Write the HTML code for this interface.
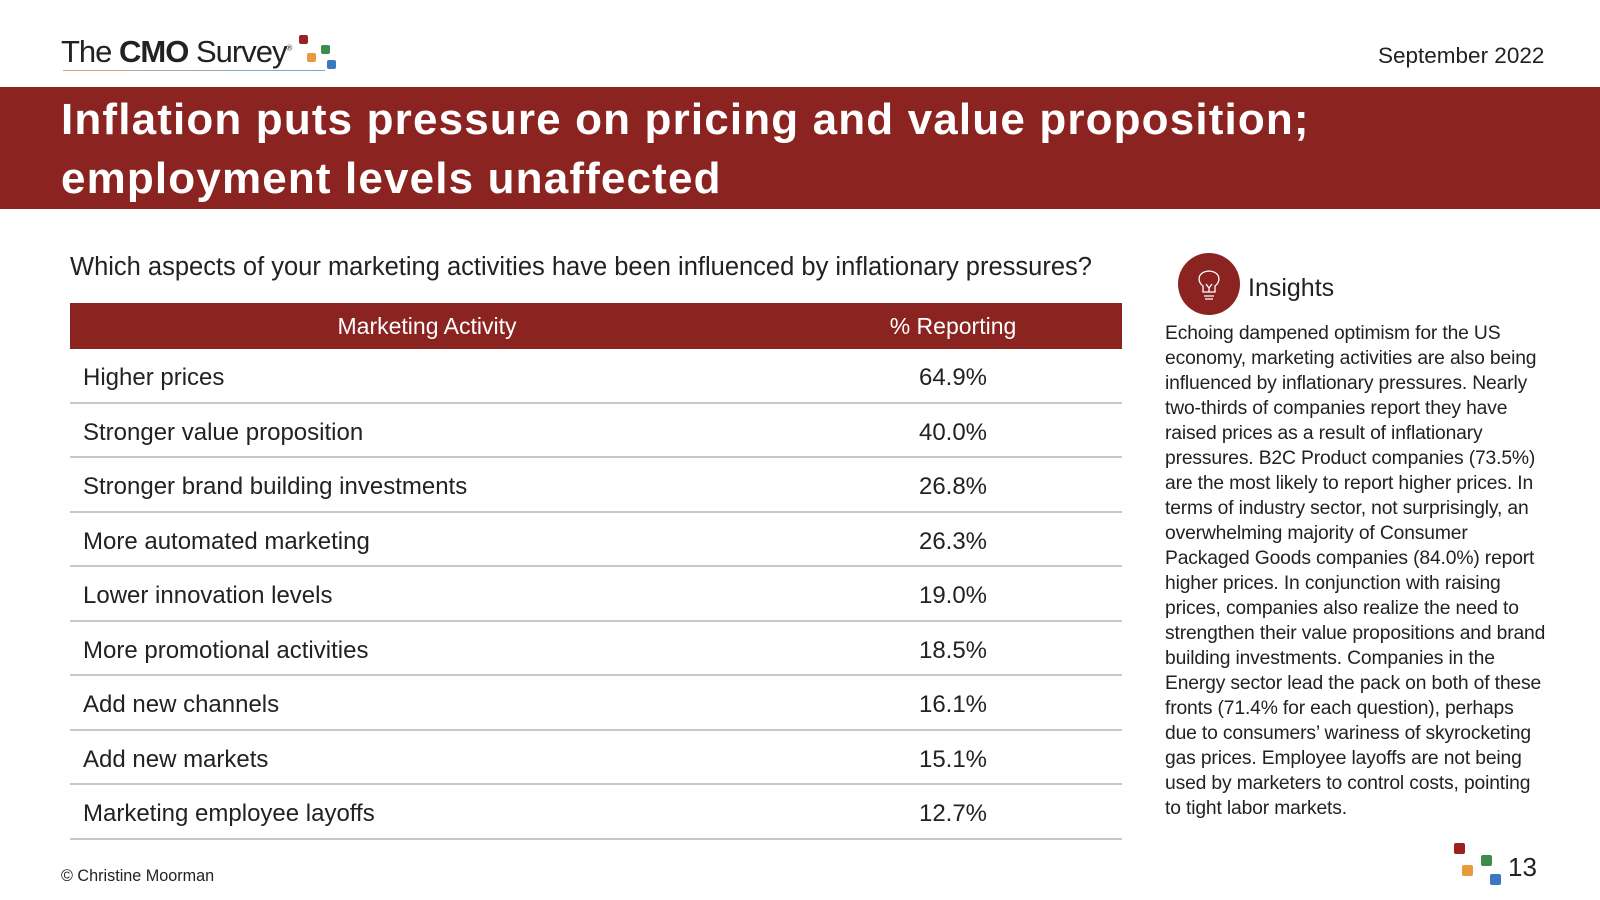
<!DOCTYPE html>
<html><head><meta charset="utf-8"><style>
body{margin:0;width:1600px;height:900px;background:#fff;font-family:"Liberation Sans",sans-serif;position:relative;overflow:hidden;color:#222}
.abs{position:absolute}
#band{left:0;top:87px;width:1600px;height:122px;background:#8b2320}
#band div{position:absolute;left:61px;color:#fff;font-weight:bold;font-size:44px;letter-spacing:1.15px;white-space:nowrap}
table{border-collapse:collapse;position:absolute;left:70px;top:303px;width:1052px}
th{background:#8b2320;color:#fff;font-weight:normal;font-size:23px;height:46px;padding:0}
td{font-size:24px;height:46.5px;padding:6px 0 0 0;border-bottom:2.5px solid #c8c8c8}
td.l{padding-left:13px}
td.v{text-align:center;width:338px}
.sq{position:absolute;width:11px;height:11px;border-radius:2px}
#ins div{white-space:nowrap}
</style></head><body>
<div class="abs" style="left:61px;top:34px;font-size:31px;letter-spacing:-1px;color:#222">The <b>CMO</b> Survey<sup style="font-size:8px">®</sup></div>
<div class="abs" style="left:63px;top:70px;width:262px;height:1px;background:linear-gradient(90deg,#e0a070,#9ab,#7ab)"></div>
<div class="sq" style="left:299px;top:35px;background:#9b2220;width:9px;height:9px"></div>
<div class="sq" style="left:321px;top:45px;background:#3c8c4c;width:9px;height:9px"></div>
<div class="sq" style="left:307px;top:53px;background:#e89a3c;width:9px;height:9px"></div>
<div class="sq" style="left:327px;top:60px;background:#3b78c0;width:9px;height:9px"></div>
<div class="abs" style="left:1378px;top:43px;font-size:22.5px">September 2022</div>
<div id="band" class="abs">
<div style="top:8px">Inflation puts pressure on pricing and value proposition;</div>
<div style="top:67px">employment levels unaffected</div></div>
<div class="abs" style="left:70px;top:253px;font-size:25.5px">Which aspects of your marketing activities have been influenced by inflationary pressures?</div>
<table>
<tr><th>Marketing Activity</th><th style="width:338px">% Reporting</th></tr>
<tr><td class="l">Higher prices</td><td class="v">64.9%</td></tr>
<tr><td class="l">Stronger value proposition</td><td class="v">40.0%</td></tr>
<tr><td class="l">Stronger brand building investments</td><td class="v">26.8%</td></tr>
<tr><td class="l">More automated marketing</td><td class="v">26.3%</td></tr>
<tr><td class="l">Lower innovation levels</td><td class="v">19.0%</td></tr>
<tr><td class="l">More promotional activities</td><td class="v">18.5%</td></tr>
<tr><td class="l">Add new channels</td><td class="v">16.1%</td></tr>
<tr><td class="l">Add new markets</td><td class="v">15.1%</td></tr>
<tr><td class="l">Marketing employee layoffs</td><td class="v">12.7%</td></tr>
</table>
<svg class="abs" style="left:1178px;top:253px" width="62" height="62"><circle cx="31" cy="31" r="31" fill="#8b2320"/><path d="M25 39 v-6 c-6-4-6-14 6-15 c12 1 12 11 6 15 v6 z M26 43h10 M27 46h8 M28 31l3 4 3-4 M31 35v4" stroke="#fff" stroke-width="1.3" fill="none"/></svg>
<div class="abs" style="left:1248px;top:274px;font-size:25px">Insights</div>
<div id="ins" class="abs" style="left:1165px;top:321px;width:395px;font-size:19.3px;line-height:25px;letter-spacing:-0.15px">
<div>Echoing dampened optimism for the US</div><div>economy, marketing activities are also being</div><div>influenced by inflationary pressures. Nearly</div><div>two-thirds of companies report they have</div><div>raised prices as a result of inflationary</div><div>pressures. B2C Product companies (73.5%)</div><div>are the most likely to report higher prices. In</div><div>terms of industry sector, not surprisingly, an</div><div>overwhelming majority of Consumer</div><div>Packaged Goods companies (84.0%) report</div><div>higher prices. In conjunction with raising</div><div>prices, companies also realize the need to</div><div>strengthen their value propositions and brand</div><div>building investments. Companies in the</div><div>Energy sector lead the pack on both of these</div><div>fronts (71.4% for each question), perhaps</div><div>due to consumers’ wariness of skyrocketing</div><div>gas prices. Employee layoffs are not being</div><div>used by marketers to control costs, pointing</div><div>to tight labor markets.</div></div>
<div class="abs" style="left:61px;top:867px;font-size:16.2px">© Christine Moorman</div>
<div class="sq" style="left:1454px;top:843px;background:#9b2220"></div>
<div class="sq" style="left:1481px;top:855px;background:#3c8c4c"></div>
<div class="sq" style="left:1462px;top:865px;background:#e89a3c"></div>
<div class="sq" style="left:1490px;top:874px;background:#3b78c0"></div>
<div class="abs" style="left:1508px;top:852px;font-size:26px">13</div>
</body></html>
